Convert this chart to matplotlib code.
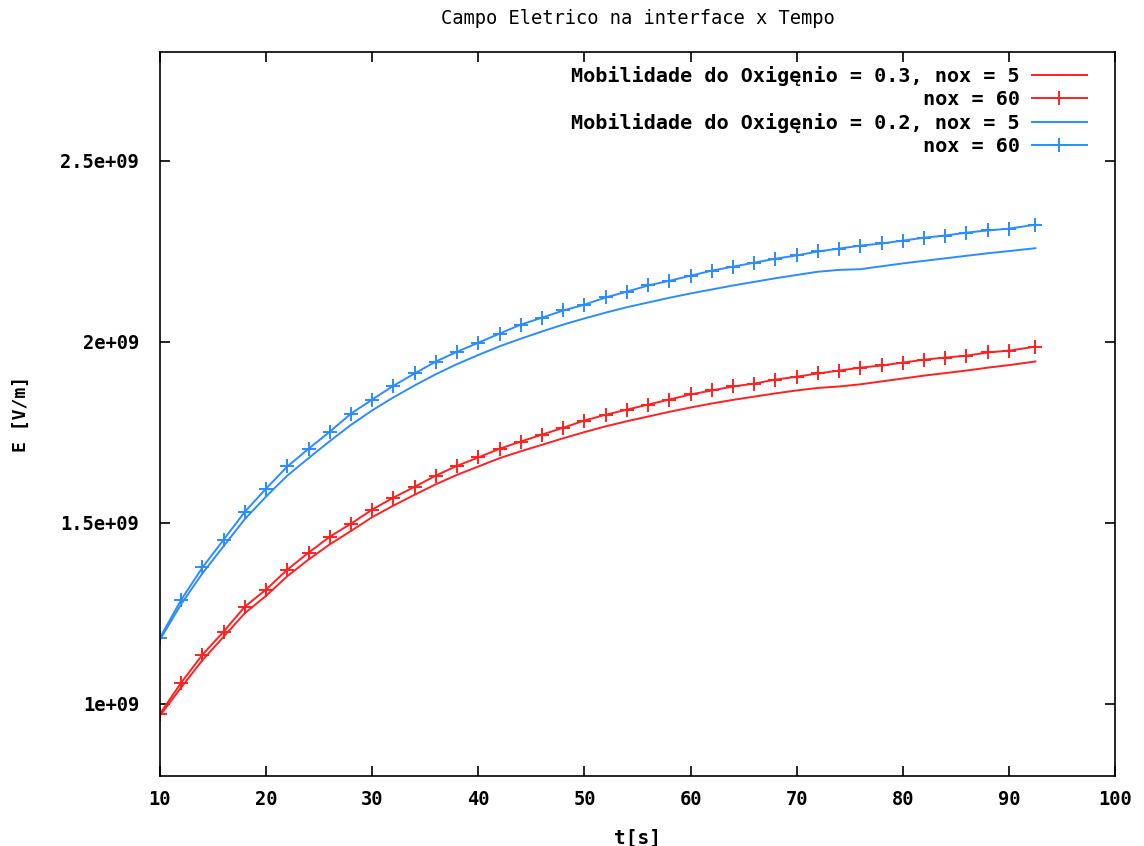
import matplotlib
matplotlib.use("Agg")
import matplotlib.pyplot as plt
import numpy as np

# time axis [s]
t = [10, 12, 14, 16, 18, 20, 22, 24, 26, 28, 30, 32, 34, 36, 38, 40, 42, 44,
     46, 48, 50, 52, 54, 56, 58, 60, 62, 64, 66, 68, 70, 72, 74, 76, 78, 80,
     82, 84, 86, 88, 90, 92.5]

# Electric field [V/m], values in units of 1e9
red_nox60 = [0.972, 1.058, 1.135, 1.199, 1.268, 1.315, 1.370, 1.417, 1.461,
             1.497, 1.536, 1.569, 1.599, 1.630, 1.657, 1.680, 1.704, 1.724,
             1.743, 1.762, 1.782, 1.798, 1.812, 1.826, 1.840, 1.854, 1.865,
             1.876, 1.884, 1.895, 1.903, 1.912, 1.920, 1.928, 1.934, 1.942,
             1.950, 1.956, 1.961, 1.970, 1.975, 1.986]
red_nox5 = [0.967, 1.045, 1.120, 1.185, 1.250, 1.298, 1.352, 1.398, 1.440,
            1.477, 1.515, 1.547, 1.577, 1.606, 1.632, 1.655, 1.678, 1.697,
            1.715, 1.733, 1.750, 1.766, 1.780, 1.793, 1.806, 1.818, 1.829,
            1.839, 1.848, 1.857, 1.865, 1.872, 1.876, 1.882, 1.890, 1.898,
            1.906, 1.913, 1.920, 1.928, 1.935, 1.945]
blue_nox60 = [1.182, 1.287, 1.376, 1.453, 1.530, 1.594, 1.655, 1.704, 1.751,
              1.801, 1.840, 1.878, 1.912, 1.945, 1.972, 1.997, 2.022, 2.047,
              2.066, 2.086, 2.102, 2.122, 2.138, 2.155, 2.168, 2.182, 2.196,
              2.207, 2.218, 2.229, 2.238, 2.249, 2.257, 2.265, 2.271, 2.279,
              2.287, 2.293, 2.301, 2.307, 2.312, 2.323]
blue_nox5 = [1.177, 1.275, 1.360, 1.435, 1.510, 1.572, 1.630, 1.678, 1.725,
             1.770, 1.810, 1.846, 1.879, 1.910, 1.938, 1.963, 1.987, 2.008,
             2.028, 2.047, 2.064, 2.080, 2.095, 2.108, 2.121, 2.133, 2.144,
             2.155, 2.165, 2.175, 2.184, 2.193, 2.198, 2.200, 2.208, 2.216,
             2.223, 2.230, 2.237, 2.244, 2.250, 2.258]

labels = ["Mobilidade do Oxigęnio = 0.3, nox = 5", "nox = 60",
          "Mobilidade do Oxigęnio = 0.2, nox = 5", "nox = 60"]

x_ticks = [10, 20, 30, 40, 50, 60, 70, 80, 90, 100]
y_ticks = [1.0, 1.5, 2.0, 2.5]
y_tick_labels = ["1e+09", "1.5e+09", "2e+09", "2.5e+09"]

plt.rcParams['font.family'] = ['DejaVu Sans Mono']
plt.rcParams['font.weight'] = 'bold'

RED = '#ff2020'
BLUE = '#2b8cff'

fig = plt.figure(figsize=(11.44, 8.46), dpi=100)
ax = fig.add_axes([160 / 1144, 1 - 776 / 846, 955 / 1144, 724 / 846])

ax.plot(t, red_nox5, color=RED, lw=1.4, label=labels[0])
ax.plot(t, red_nox60, color=RED, lw=1.4, marker='+', ms=10, mew=1.4, label=labels[1])
ax.plot(t, blue_nox5, color=BLUE, lw=1.4, label=labels[2])
ax.plot(t, blue_nox60, color=BLUE, lw=1.4, marker='+', ms=10, mew=1.4, label=labels[3])

ax.set_xlim(10, 100)
ax.set_ylim(0.8, 2.8)
ax.set_xticks(x_ticks)
ax.set_xticklabels([str(v) for v in x_ticks])
ax.set_yticks(y_ticks)
ax.set_yticklabels(y_tick_labels)
ax.tick_params(direction='in', length=7, width=1.2, top=True, right=True,
               labelsize=13.5)
ax.tick_params(axis='x', pad=10)
ax.tick_params(axis='y', pad=15)
for s in ax.spines.values():
    s.set_linewidth(1.2)

ax.set_title("Campo Eletrico na interface x Tempo", fontsize=13.5,
             fontweight='normal', pad=20)
ax.set_xlabel("t[s]", fontsize=14, fontweight='bold', labelpad=14)
ax.set_ylabel("E [V/m]", fontsize=13, fontweight='bold', labelpad=22)

ax.legend(loc='upper right', bbox_to_anchor=(0.985, 1.0), frameon=False,
          markerfirst=False, fontsize=14.5, handlelength=2.7,
          labelspacing=0.2, handletextpad=0.6, borderaxespad=0.3)

fig.savefig("out.png", dpi=100)
